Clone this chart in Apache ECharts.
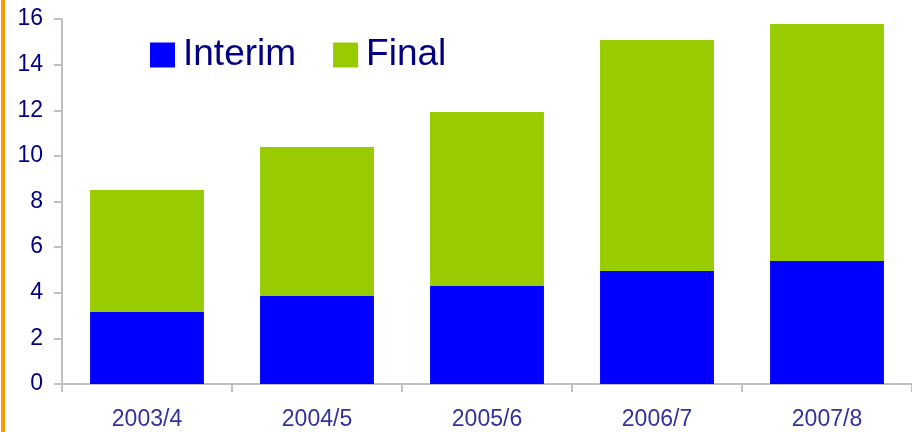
<!DOCTYPE html>
<html>
<head>
<meta charset="utf-8">
<script src="https://cdn.jsdelivr.net/npm/echarts@6/dist/echarts.min.js"></script>
<style>html,body{margin:0;padding:0;background:#fff;}#c{width:912px;height:432px;}</style>
</head>
<body>
<div id="c"></div>
<script>
var categories = ['2003/4', '2004/5', '2005/6', '2006/7', '2007/8'];
var interim = [3.16, 3.86, 4.30, 4.95, 5.39];
var finalDiv = [5.34, 6.53, 7.62, 10.13, 10.39];
var yTicks = { min: 0, max: 16, interval: 2 };

var chart = echarts.init(document.getElementById('c'));
chart.setOption({
  animation: false,
  graphic: [{ type: 'rect', shape: { x: 1, y: 0, width: 4, height: 432 }, style: { fill: '#ff9900' }, silent: true }],
  legend: {
    left: 145, top: 31,
    itemWidth: 25, itemHeight: 25, itemGap: 37,
    icon: 'rect',
    textStyle: { fontFamily: 'Liberation Sans, Arial, sans-serif', fontSize: 37, lineHeight: 38, color: '#000080', padding: [0, 0, 0, 3] },
    data: ['Interim', 'Final']
  },
  grid: { left: 62, right: 0, top: 19, bottom: 48, containLabel: false },
  xAxis: {
    type: 'category', data: categories,
    axisLine: { lineStyle: { color: '#c0c0c0', width: 2 } },
    axisTick: { show: true, length: 8, lineStyle: { color: '#c0c0c0', width: 2 } },
    axisLabel: { margin: 24, fontFamily: 'Liberation Sans, Arial, sans-serif', fontSize: 23, color: '#333399' }
  },
  yAxis: {
    type: 'value', min: yTicks.min, max: yTicks.max, interval: yTicks.interval,
    axisLine: { show: true, lineStyle: { color: '#c0c0c0', width: 2 } },
    axisTick: { show: true, length: 8, lineStyle: { color: '#c0c0c0', width: 2 } },
    splitLine: { show: false },
    axisLabel: { margin: 19, fontFamily: 'Liberation Sans, Arial, sans-serif', fontSize: 23, color: '#000080' }
  },
  series: [
    { name: 'Interim', type: 'bar', stack: 't', data: interim, barWidth: '67%', itemStyle: { color: '#0000ff' } },
    { name: 'Final', type: 'bar', stack: 't', data: finalDiv, barWidth: '67%', itemStyle: { color: '#99cc00' } }
  ]
});
</script>
</body>
</html>
